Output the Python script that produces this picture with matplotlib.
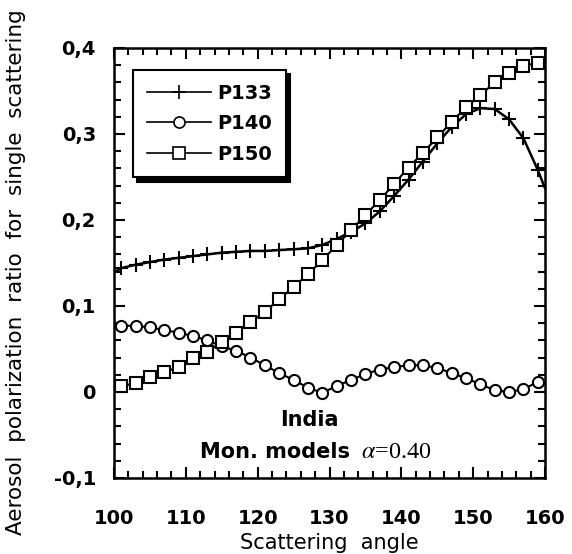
import matplotlib
matplotlib.use("Agg")
import matplotlib.pyplot as plt

# scattering angles of the markers (every 2 deg)
angles = [101, 103, 105, 107, 109, 111, 113, 115, 117, 119, 121, 123, 125, 127, 129,
          131, 133, 135, 137, 139, 141, 143, 145, 147, 149, 151, 153, 155, 157, 159]

p133 = [0.144, 0.148, 0.151, 0.154, 0.156, 0.158, 0.160, 0.162, 0.163, 0.164, 0.164, 0.165,
        0.166, 0.167, 0.171, 0.178, 0.186, 0.196, 0.210, 0.228, 0.247, 0.268, 0.289, 0.308,
        0.323, 0.330, 0.329, 0.317, 0.295, 0.258]
p133_start = 0.139   # value where the curve meets 100 deg
p133_end = 0.237     # value where the curve meets 160 deg

p140 = [0.077, 0.077, 0.075, 0.072, 0.069, 0.065, 0.060, 0.053, 0.048, 0.040, 0.031, 0.022,
        0.014, 0.005, -0.001, 0.007, 0.014, 0.021, 0.026, 0.029, 0.031, 0.031, 0.028, 0.022,
        0.016, 0.009, 0.002, 0.000, 0.003, 0.012]

p150 = [0.007, 0.010, 0.017, 0.023, 0.029, 0.039, 0.047, 0.058, 0.069, 0.081, 0.093, 0.108,
        0.122, 0.137, 0.153, 0.171, 0.188, 0.206, 0.223, 0.242, 0.261, 0.278, 0.296, 0.314,
        0.331, 0.345, 0.360, 0.371, 0.379, 0.383]

yticks = [-0.1, 0, 0.1, 0.2, 0.3, 0.4]
ytick_labels = ["-0,1", "0", "0,1", "0,2", "0,3", "0,4"]
xticks = [100, 110, 120, 130, 140, 150, 160]

plt.rcParams['font.family'] = ['DejaVu Sans']

fig = plt.figure(figsize=(5.72, 5.54), dpi=100)
ax = fig.add_axes([0.1993, 0.1372, 0.7535, 0.7762])

# P133: continuous line to both edges, plus markers on top
ax.plot([100] + angles + [160], [p133_start] + p133 + [p133_end], color="black", lw=1.8)
ax.plot(angles, p133, ls="none", marker="+", ms=10, mew=1.5, color="black")
ax.plot(angles, p140, color="black", lw=1.5, marker="o", ms=8, mfc="white", mew=1.5)
ax.plot(angles, p150, color="black", lw=1.5, marker="s", ms=9, mfc="white", mew=1.5)

# legend handles
h1, = ax.plot([], [], color="black", lw=1.2, marker="+", ms=10, mew=1.2)
h2, = ax.plot([], [], color="black", lw=1.2, marker="o", ms=8, mfc="white", mew=1.2)
h3, = ax.plot([], [], color="black", lw=1.2, marker="s", ms=8, mfc="white", mew=1.2)
leg = ax.legend([h1, h2, h3], ["P133", "P140", "P150"], loc="upper left",
                bbox_to_anchor=(0.044, 0.949), borderaxespad=0, fancybox=False,
                edgecolor="black", framealpha=1, handlelength=3.3, handletextpad=0.35,
                labelspacing=0.6, borderpad=0.7,
                prop={"size": 14, "weight": "bold"},
                shadow={"color": "black", "alpha": 1, "ox": 3, "oy": -3})
leg.get_frame().set_linewidth(1.5)

ax.text(127.2, -0.0395, "India", ha="center", va="baseline", fontsize=15, fontweight="bold")
ax.text(122.4, -0.0767, "Mon. models", ha="center", va="baseline", fontsize=15, fontweight="bold")
ax.text(139.3, -0.0767, r"$\alpha$=0.40", ha="center", va="baseline", fontsize=17.5,
        family="Liberation Serif", math_fontfamily="stix")

ax.set_xlim(100, 160)
ax.set_ylim(-0.1, 0.4)
ax.set_xticks(xticks)
ax.set_xticks(range(100, 161, 2), minor=True)
ax.set_yticks(yticks)
ax.set_yticklabels(ytick_labels)
ax.set_yticks([-0.1 + 0.02 * i for i in range(26)], minor=True)

ax.tick_params(which="both", direction="in", top=True, right=True, width=1.5)
ax.tick_params(which="major", length=8)
ax.tick_params(which="minor", length=5)
ax.tick_params(axis="x", which="major", pad=22, labelsize=14)
ax.tick_params(axis="y", which="major", pad=13, labelsize=14)
for lab in ax.get_xticklabels() + ax.get_yticklabels():
    lab.set_fontweight("bold")
for sp in ax.spines.values():
    sp.set_linewidth(1.8)

ax.set_xlabel("Scattering  angle", fontsize=15, labelpad=4)
ax.set_ylabel("Aerosol  polarization  ratio  for  single  scattering", fontsize=15.5)
ax.yaxis.set_label_coords(-0.204, 0.479)

fig.savefig("out.png", dpi=100)
